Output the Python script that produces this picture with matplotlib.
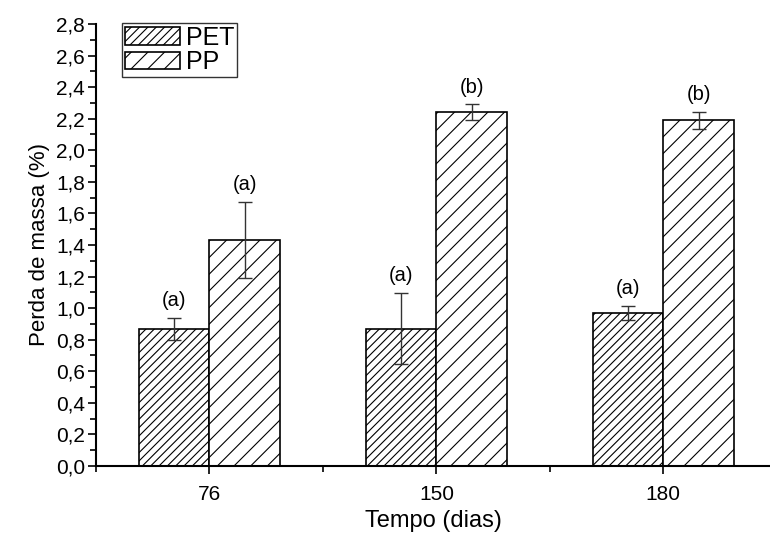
import matplotlib
matplotlib.use("Agg")
import matplotlib.pyplot as plt
from matplotlib.ticker import MultipleLocator, FixedLocator, FuncFormatter
import numpy as np

categories = ["76", "150", "180"]
pet_values = [0.87, 0.87, 0.97]
pet_errors = [0.07, 0.225, 0.045]
pp_values = [1.43, 2.24, 2.19]
pp_errors = [0.24, 0.05, 0.055]
pet_letters = ["(a)", "(a)", "(a)"]
pp_letters = ["(a)", "(b)", "(b)"]

plt.rcParams['font.family'] = ['Liberation Sans', 'DejaVu Sans']
plt.rcParams['hatch.linewidth'] = 0.8

fig = plt.figure(figsize=(7.7, 5.33), dpi=100)
ax = fig.add_axes([0.1247, 0.1257, 0.8753, 0.8293])

x = np.arange(1, len(categories) + 1)
w = 0.31

ax.bar(x - w / 2, pet_values, w, facecolor='white', edgecolor='black',
       hatch='////', linewidth=1.2, label='PET')
ax.bar(x + w / 2, pp_values, w, facecolor='white', edgecolor='black',
       hatch='//', linewidth=1.2, label='PP')
ax.errorbar(x - w / 2, pet_values, yerr=pet_errors, fmt='none', ecolor='#333333',
            elinewidth=1.0, capsize=5, capthick=1.0)
ax.errorbar(x + w / 2, pp_values, yerr=pp_errors, fmt='none', ecolor='#333333',
            elinewidth=1.0, capsize=5, capthick=1.0)

for xi, v, e, t in zip(x - w / 2, pet_values, pet_errors, pet_letters):
    ax.text(xi, v + e + 0.05, t, ha='center', va='bottom', fontsize=14.5)
for xi, v, e, t in zip(x + w / 2, pp_values, pp_errors, pp_letters):
    ax.text(xi, v + e + 0.05, t, ha='center', va='bottom', fontsize=14.5)

ax.set_xlim(0.5, 3.47)
ax.set_ylim(0, 2.8)
ax.set_xticks(x)
ax.set_xticklabels(categories, fontsize=15)
ax.xaxis.set_minor_locator(FixedLocator([0.5, 1.5, 2.5, 3.5]))
ax.yaxis.set_major_locator(MultipleLocator(0.2))
ax.yaxis.set_minor_locator(MultipleLocator(0.1))
ax.yaxis.set_major_formatter(FuncFormatter(lambda v, p: f"{v:.1f}".replace('.', ',')))
ax.tick_params(axis='y', labelsize=15, pad=2)
ax.tick_params(axis='x', pad=8)
ax.tick_params(which='major', direction='out', length=6, width=1.2)
ax.tick_params(which='minor', direction='out', length=4, width=1.2)

for s in ['top', 'right']:
    ax.spines[s].set_visible(False)
for s in ['left', 'bottom']:
    ax.spines[s].set_linewidth(1.5)

ax.set_xlabel("Tempo (dias)", fontsize=17, labelpad=4)
ax.set_ylabel("Perda de massa (%)", fontsize=16, labelpad=4)

leg = ax.legend(loc='upper left', bbox_to_anchor=(0.038, 1.003), fontsize=18,
                frameon=True, fancybox=False, edgecolor='black',
                handlelength=2.2, handleheight=0.72, handletextpad=0.25,
                labelspacing=0.02, borderpad=0.12, borderaxespad=0)
leg.get_frame().set_linewidth(1.0)

fig.savefig("out.png", dpi=100)
